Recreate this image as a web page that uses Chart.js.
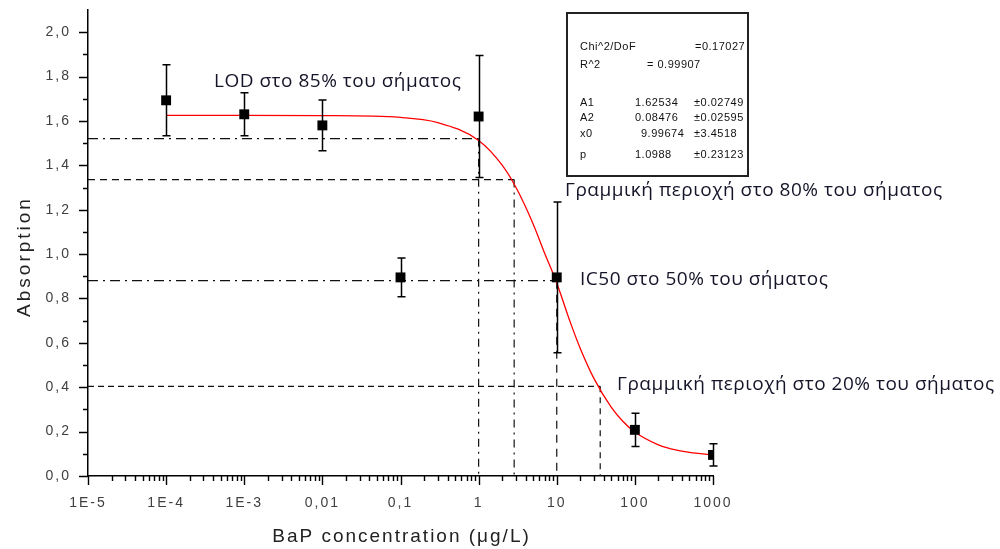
<!DOCTYPE html>
<html>
<head>
<meta charset="utf-8">
<script src="https://cdn.jsdelivr.net/npm/chart.js@4.4.0/dist/chart.umd.min.js"></script>
<style>
  html, body { margin: 0; padding: 0; background: #ffffff; }
  #wrap { width: 1000px; height: 549px; }
</style>
</head>
<body>
<div id="wrap"><canvas id="chart" width="1000" height="549"></canvas></div>
<script>
// Measured absorption vs. BaP concentration (mean ± SD)
const concentrations = [1e-4, 1e-3, 0.01, 0.1, 1, 10, 100, 1000];
const absorption     = [1.693, 1.630, 1.580, 0.895, 1.620, 0.895, 0.208, 0.095];
const absorptionErr  = [0.160, 0.097, 0.114, 0.087, 0.275, 0.340, 0.075, 0.050];

// Logistic fit curve, sampled along the concentration axis
const fitConc = [1e-4, 1e-3, 0.01, 0.1, 0.3, 1, 2, 3, 5, 7, 10, 15, 20, 30, 50, 70, 100, 200, 300, 500, 1000];
const fitAbs  = [1.625, 1.625, 1.624, 1.616, 1.593, 1.512, 1.401, 1.301, 1.135, 1.004, 0.870, 0.690, 0.575, 0.439, 0.309, 0.247, 0.198, 0.140, 0.121, 0.106, 0.095];

// Signal levels and the concentrations where the curve reaches them
const refLevels = [1.52, 1.336, 0.88, 0.404];
const refConc   = [1, 2.85, 10, 36];
const refLabels = [
  'LOD στο 85% του σήματος',
  'Γραμμική περιοχή στο 80% του σήματος',
  'IC50 στο 50% του σήματος',
  'Γραμμική περιοχή στο 20% του σήματος'
];

// Axis ticks
const xTickValues = [1e-5, 1e-4, 1e-3, 0.01, 0.1, 1, 10, 100, 1000];
const xTickLabels = ['1E-5', '1E-4', '1E-3', '0,01', '0,1', '1', '10', '100', '1000'];
const yTickValues = [0, 0.2, 0.4, 0.6, 0.8, 1.0, 1.2, 1.4, 1.6, 1.8, 2.0];
const yTickLabels = ['0,0', '0,2', '0,4', '0,6', '0,8', '1,0', '1,2', '1,4', '1,6', '1,8', '2,0'];

// Fit report
const fitStatNames  = ['Chi^2/DoF', 'R^2'];
const fitStatValues = ['=0.17027', '= 0.99907'];
const fitParamNames  = ['A1', 'A2', 'x0', 'p'];
const fitParamValues = ['1.62534', '0.08476', '9.99674', '1.0988'];
const fitParamErrors = ['±0.02749', '±0.02595', '±3.4518', '±0.23123'];

const X_MIN = 1e-5, X_MAX = 1000, Y_MIN = 0, Y_MAX = 2.1;

const markerData = concentrations.map((c, i) => ({ x: c, y: absorption[i] }));
const fitData = fitConc.map((c, i) => ({ x: c, y: fitAbs[i] }));

const hDash = [[10, 5, 2, 5], [7, 5], [10, 5, 2, 5], [6, 4]];
const vDash = [[8, 5, 2, 5], [8, 5, 2, 5], [8, 6], [6, 5]];

const refDatasets = [];
refLevels.forEach((lvl, i) => {
  refDatasets.push({
    data: [{ x: X_MIN, y: lvl }, { x: refConc[i], y: lvl }],
    borderColor: '#111', borderWidth: 1.2, borderDash: hDash[i],
    pointRadius: 0, fill: false, tension: 0, order: 3
  });
  refDatasets.push({
    data: [{ x: refConc[i], y: lvl }, { x: refConc[i], y: Y_MIN }],
    borderColor: '#111', borderWidth: 1.2, borderDash: vDash[i],
    pointRadius: 0, fill: false, tension: 0, order: 3
  });
});

function drawSpaced(ctx, text, x, y, align) {
  const w = ctx.measureText(text).width;
  const sp = parseFloat(ctx.letterSpacing) || 0;
  let left = x;
  if (align === 'center') left = x - (w - sp) / 2;
  ctx.textAlign = 'left';
  ctx.fillText(text, left, y);
}

const extras = {
  id: 'extras',
  beforeDraw(chart) {
    chart.ctx.letterSpacing = '2px';
  },
  beforeDatasetsDraw(chart) {
    const ctx = chart.ctx;
    ctx.letterSpacing = '0px';
    const xs = chart.scales.x, ys = chart.scales.y;
    const x0 = xs.left, y0 = ys.bottom;
    ctx.save();
    ctx.strokeStyle = '#000';
    ctx.lineWidth = 1.4;
    ctx.beginPath();
    // x axis: decades and 2..9 minor ticks
    for (let d = -5; d <= 3; d++) {
      const base = Math.pow(10, d);
      const px = Math.round(xs.getPixelForValue(base)) + 0.5;
      ctx.moveTo(px, y0); ctx.lineTo(px, y0 + 9);
      if (d < 3) {
        for (let k = 2; k <= 9; k++) {
          const mx = Math.round(xs.getPixelForValue(base * k)) + 0.5;
          ctx.moveTo(mx, y0); ctx.lineTo(mx, y0 + 5);
        }
      }
    }
    // y axis: 0.2 major, 0.1 minor
    for (let i = 0; i <= 20; i++) {
      const py = Math.round(ys.getPixelForValue(i / 10)) + 0.5;
      const len = i % 2 === 0 ? 9 : 5;
      ctx.moveTo(x0, py); ctx.lineTo(x0 - len, py);
    }
    ctx.stroke();
    ctx.restore();
  },
  beforeDatasetDraw(chart, args) {
    if (args.index !== 0) return;
    const ctx = chart.ctx;
    const xs = chart.scales.x, ys = chart.scales.y;
    ctx.save();
    ctx.strokeStyle = '#000';
    ctx.lineWidth = 1.5;
    ctx.beginPath();
    concentrations.forEach((c, i) => {
      const px = Math.round(xs.getPixelForValue(c)) + 0.5;
      const top = ys.getPixelForValue(absorption[i] + absorptionErr[i]);
      const bot = ys.getPixelForValue(absorption[i] - absorptionErr[i]);
      ctx.moveTo(px, top); ctx.lineTo(px, bot);
      ctx.moveTo(px - 4, top); ctx.lineTo(px + 4, top);
      ctx.moveTo(px - 4, bot); ctx.lineTo(px + 4, bot);
    });
    ctx.stroke();
    ctx.restore();
  },
  afterDraw(chart) {
    const ctx = chart.ctx;
    const area = chart.chartArea;
    ctx.save();
    ctx.textBaseline = 'middle';

    // axis titles
    ctx.fillStyle = '#222';
    ctx.font = '19px "Liberation Sans", Arial, sans-serif';
    ctx.letterSpacing = '2px';
    drawSpaced(ctx, 'BaP concentration (μg/L)', (area.left + area.right) / 2, 537, 'center');
    ctx.save();
    ctx.translate(25, 258);
    ctx.rotate(-Math.PI / 2);
    ctx.letterSpacing = '3px';
    drawSpaced(ctx, 'Absorption', 0, 0, 'center');
    ctx.restore();

    // level annotations
    ctx.fillStyle = '#15152a';
    ctx.font = '19px "Open Sans", sans-serif';
    ctx.letterSpacing = '0.5px';
    const labelPos = [[214, 82], [565, 191], [580, 280], [617, 385]];
    refLabels.forEach((t, i) => drawSpaced(ctx, t, labelPos[i][0], labelPos[i][1], 'left'));

    // fit report box
    ctx.letterSpacing = '0px';
    ctx.strokeStyle = '#222';
    ctx.lineWidth = 2;
    ctx.strokeRect(567, 13, 181, 163);
    ctx.fillStyle = '#111';
    ctx.font = '11px "Liberation Sans", Arial, sans-serif';
    ctx.letterSpacing = '0.5px';
    const statRows = [47, 65];
    const statValX = [695, 647];
    fitStatNames.forEach((n, i) => {
      drawSpaced(ctx, n, 580, statRows[i], 'left');
      drawSpaced(ctx, fitStatValues[i], statValX[i], statRows[i], 'left');
    });
    const paramRows = [103, 118, 134, 155];
    fitParamNames.forEach((n, i) => {
      drawSpaced(ctx, n, 580, paramRows[i], 'left');
      drawSpaced(ctx, fitParamValues[i], n === 'x0' ? 641 : 635, paramRows[i], 'left');
      drawSpaced(ctx, fitParamErrors[i], 694, paramRows[i], 'left');
    });
    ctx.restore();
  }
};

new Chart(document.getElementById('chart'), {
  type: 'line',
  data: {
    datasets: [
      {
        data: markerData, showLine: false,
        pointStyle: 'rect', pointRadius: 7, pointHoverRadius: 7,
        pointBackgroundColor: '#000', pointBorderWidth: 0, order: 0
      },
      {
        data: fitData, borderColor: '#ff0000', borderWidth: 1.3,
        pointRadius: 0, fill: false, cubicInterpolationMode: 'monotone', order: 1
      },
      ...refDatasets
    ]
  },
  options: {
    responsive: false,
    animation: false,
    devicePixelRatio: 1,
    layout: { padding: { top: 10, right: 287, left: 0, bottom: 0 } },
    plugins: { legend: { display: false }, tooltip: { enabled: false } },
    scales: {
      x: {
        type: 'logarithmic', min: X_MIN, max: X_MAX,
        grid: { display: false, drawTicks: false },
        border: { display: true, color: '#000', width: 1.5 },
        afterBuildTicks: (s) => { s.ticks = xTickValues.map(v => ({ value: v })); },
        afterFit: (s) => { s.height = 73; s.paddingLeft = 0; s.paddingRight = 0; },
        ticks: {
          autoSkip: false, maxRotation: 0, padding: 19,
          color: '#404040', font: { family: '"Liberation Sans", Arial, sans-serif', size: 14 },
          callback: (v, i) => xTickLabels[i]
        }
      },
      y: {
        type: 'linear', min: Y_MIN, max: Y_MAX,
        grid: { display: false, drawTicks: false },
        border: { display: true, color: '#000', width: 1.5 },
        afterBuildTicks: (s) => { s.ticks = yTickValues.map(v => ({ value: v })); },
        afterFit: (s) => { s.width = 88; s.paddingTop = 0; s.paddingBottom = 0; },
        ticks: {
          autoSkip: false, padding: 17,
          color: '#404040', font: { family: '"Liberation Sans", Arial, sans-serif', size: 14 },
          callback: (v, i) => yTickLabels[i]
        }
      }
    }
  },
  plugins: [extras]
});
</script>
</body>
</html>
